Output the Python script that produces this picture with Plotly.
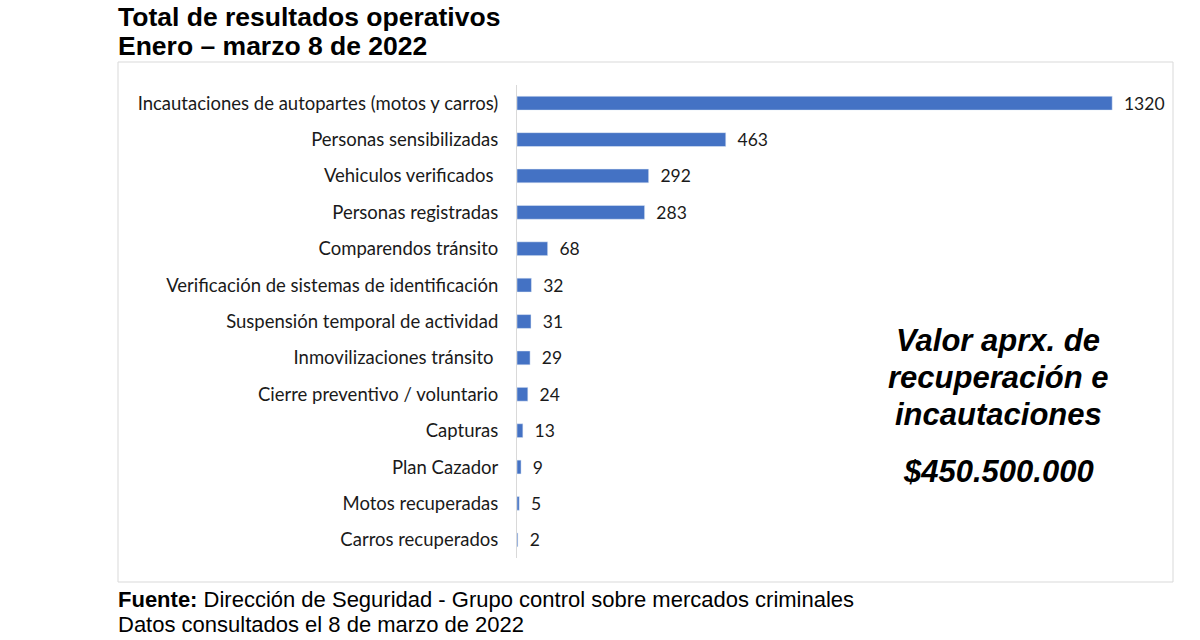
import plotly.graph_objects as go

categories = [
    "Incautaciones de autopartes (motos y carros)",
    "Personas sensibilizadas",
    "Vehiculos verificados ",
    "Personas registradas",
    "Comparendos tránsito",
    "Verificación de sistemas de identificación",
    "Suspensión temporal de actividad",
    "Inmovilizaciones tránsito ",
    "Cierre preventivo / voluntario",
    "Capturas",
    "Plan Cazador",
    "Motos recuperadas",
    "Carros recuperados",
]
values = [1320, 463, 292, 283, 68, 32, 31, 29, 24, 13, 9, 5, 2]

title_lines = ["Total de resultados operativos", "Enero – marzo 8 de 2022"]
note_lines = ["Valor aprx. de", "recuperación e", "incautaciones"]
note_value = "$450.500.000"
source_label = "Fuente:"
source_text = " Dirección de Seguridad - Grupo control sobre mercados criminales"
date_text = "Datos consultados el 8 de marzo de 2022"

W, H = 1200, 640
L, R, T, B = 517, 1160, 85, 558

def px(x):
    return (x - L) / (R - L)

def py(y):
    return (B - y) / (B - T)

fig = go.Figure(go.Bar(
    x=values, y=categories, orientation="h",
    marker=dict(color="#4472C4"),
    width=0.38,
    texttemplate="\u2002%{x}", textposition="outside",
    constraintext="none",
    textfont=dict(family="Lato, Open Sans, sans-serif", size=17.5, color="#1a1a1a"),
    cliponaxis=False,
    hoverinfo="x+y",
))

fig.update_layout(
    width=W, height=H,
    margin=dict(l=L, r=W - R, t=T, b=H - B),
    paper_bgcolor="white", plot_bgcolor="white",
    showlegend=False,
    xaxis=dict(range=[0, 1426], visible=False, fixedrange=True),
    yaxis=dict(
        autorange="reversed", showgrid=False, zeroline=False,
        showline=True, linecolor="#d9d9d9", linewidth=1,
        ticks="", ticklabelstandoff=14, fixedrange=True,
        tickfont=dict(family="Lato, Open Sans, sans-serif", size=18.5, color="#1a1a1a"),
    ),
)

# outer chart box
fig.add_shape(type="rect", xref="paper", yref="paper",
              x0=px(118), x1=px(1173), y0=py(582), y1=py(62),
              line=dict(color="#d9d9d9", width=1), fillcolor="rgba(0,0,0,0)", layer="below")

ann = []
for i, t in enumerate(title_lines):
    ann.append(dict(text="<b>" + t + "</b>", xref="paper", yref="paper",
                    x=px(116), y=py(17 + 29 * i), xanchor="left", yanchor="middle",
                    showarrow=False,
                    font=dict(family="Liberation Sans, Arial, sans-serif", size=26.5, color="black")))
for i, t in enumerate(note_lines):
    ann.append(dict(text="<b><i>" + t + "</i></b>", xref="paper", yref="paper",
                    x=px(998), y=py(340 + 37 * i), xanchor="center", yanchor="middle",
                    showarrow=False,
                    font=dict(family="Liberation Sans, Arial, sans-serif", size=31, color="black")))
ann.append(dict(text="<b><i>" + note_value + "</i></b>", xref="paper", yref="paper",
                x=px(998), y=py(471), xanchor="center", yanchor="middle", showarrow=False,
                font=dict(family="Liberation Sans, Arial, sans-serif", size=31, color="black")))
ann.append(dict(text="<b>" + source_label + "</b>" + source_text, xref="paper", yref="paper",
                x=px(116), y=py(599), xanchor="left", yanchor="middle", showarrow=False,
                font=dict(family="Liberation Sans, Arial, sans-serif", size=22, color="black")))
ann.append(dict(text=date_text, xref="paper", yref="paper",
                x=px(116), y=py(624), xanchor="left", yanchor="middle", showarrow=False,
                font=dict(family="Liberation Sans, Arial, sans-serif", size=22, color="black")))
fig.update_layout(annotations=ann)

fig.write_html("out.html", config={"displayModeBar": False},
               post_script="document.body.style.margin='0';document.body.style.overflow='hidden';")
